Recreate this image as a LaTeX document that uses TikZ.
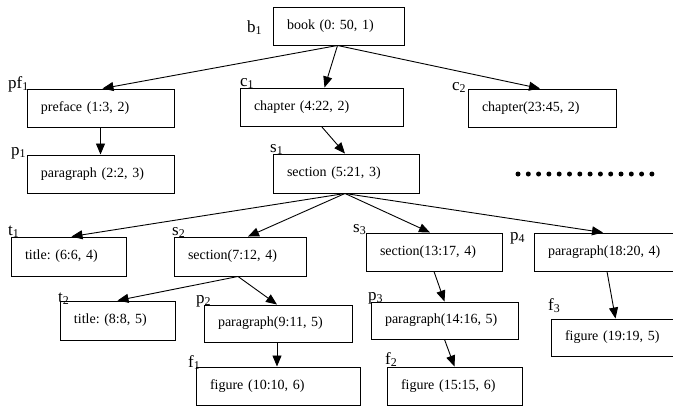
\documentclass[tikz,border=0pt]{standalone}
\usepackage{fontspec}
\setmainfont{Liberation Serif}
\usetikzlibrary{arrows.meta}
\frenchspacing
\begin{document}
\begin{tikzpicture}[x=1pt,y=-1pt,
 box/.style={draw, line width=0.95pt, inner xsep=14pt, inner ysep=0pt, align=left, font=\fontsize{14}{16}\selectfont\frenchspacing, anchor=center},
 lbl/.style={inner sep=0pt, anchor=base west, font=\fontsize{17}{19}\selectfont},
 arr/.style={line width=0.9pt, -{Triangle[length=11pt,width=9pt]}},
 dotn/.style={circle, fill, inner sep=0pt, minimum size=5pt}]
\clip (0,0) rectangle (673,407);
% boxes
\node[box, text width=103pt, minimum height=38pt] (book) at (338.5,26) {book (0: 50, 1)};
\node[box, text width=119pt, minimum height=38pt] (pre) at (100.5,108) {preface (1:3, 2)};
\node[box, text width=119pt, minimum height=38pt] (par1) at (100.5,174) {paragraph (2:2, 3)};
\node[box, text width=135pt, minimum height=38pt] (ch1) at (321.5,107) {chapter (4:22, 2)};
\node[box, text width=120pt, minimum height=38pt] (ch2) at (542,108) {chapter(23:45, 2)};
\node[box, text width=118pt, minimum height=39pt] (sec1) at (346,173.5) {section (5:21, 3)};
\node[box, text width=87pt, minimum height=39pt] (t1) at (68.5,256.5) {title: (6:6, 4)};
\node[box, text width=104pt, minimum height=39pt] (s2) at (240,256.5) {section(7:12, 4)};
\node[box, text width=108pt, minimum height=38pt] (s3) at (434,252) {section(13:17, 4)};
\node[box, text width=128pt, minimum height=38pt] (p4) at (612,252) {paragraph(18:20, 4)};
\node[box, text width=87pt, minimum height=39pt] (t2) at (117.5,320.5) {title: (8:8, 5)};
\node[box, text width=120pt, minimum height=37pt] (p2) at (278,323.5) {paragraph(9:11, 5)};
\node[box, text width=136pt, minimum height=38pt] (f1) at (278,386) {figure (10:10, 6)};
\node[box, text width=119pt, minimum height=37pt] (p3) at (444.5,320.5) {paragraph(14:16, 5)};
\node[box, text width=107pt, minimum height=38pt] (f2) at (454.5,386) {figure (15:15, 6)};
\node[box, text width=111pt, minimum height=37pt] (f3) at (620.5,337.5) {figure (19:19, 5)};
% labels
\node[lbl] (lb1) at (247,32) {b\textsubscript{1}};
\node[lbl] (lpf1) at (8,88) {pf\textsubscript{1}};
\node[lbl] (lc1) at (240,86) {c\textsubscript{1}};
\node[lbl] (lc2) at (452,90) {c\textsubscript{2}};
\node[lbl] (lp1) at (11,155) {p\textsubscript{1}};
\node[lbl] (ls1) at (270,152) {s\textsubscript{1}};
\node[lbl] (lt1) at (8,235) {t\textsubscript{1}};
\node[lbl] (ls2) at (172,235) {s\textsubscript{2}};
\node[lbl] (lt2) at (58,302) {t\textsubscript{2}};
\node[lbl] (lp2) at (196,303) {p\textsubscript{2}};
\node[lbl] (lf1) at (188,367) {f\textsubscript{1}};
\node[lbl] (ls3) at (353,232) {s\textsubscript{3}};
\node[lbl] (lp4) at (510,240) {p\textsubscript{4}};
\node[lbl] (lp3) at (368,300) {p\textsubscript{3}};
\node[lbl] (lf2) at (385,364) {f\textsubscript{2}};
\node[lbl] (lf3) at (548,310) {f\textsubscript{3}};
% arrows
\draw[arr] ([xshift=-1pt]book.south) -- ([xshift=2pt]pre.north);
\draw[arr] ([xshift=-1pt]book.south) -- ([xshift=3pt]ch1.north);
\draw[arr] ([xshift=-1pt]book.south) -- ([xshift=-2pt]ch2.north);
\draw[arr] (pre.south) -- (par1.north);
\draw[arr] (ch1.south) -- ([xshift=-1pt]sec1.north);
\draw[arr] ([xshift=-1pt]sec1.south) -- ([xshift=3pt]t1.north);
\draw[arr] ([xshift=-1pt]sec1.south) -- ([xshift=8pt]s2.north);
\draw[arr] ([xshift=-1pt]sec1.south) -- ([xshift=-4pt]s3.north);
\draw[arr] ([xshift=-1pt]sec1.south) -- ([xshift=-9pt]p4.north);
\draw[arr] ([xshift=-2pt]s2.south) -- (t2.north);
\draw[arr] ([xshift=-2pt]s2.south) -- ([xshift=-1pt]p2.north);
\draw[arr] ([xshift=-1pt]p2.south) -- ([xshift=-1pt]f1.north);
\draw[arr] (s3.south) -- (p3.north);
\draw[arr] (p3.south) -- (f2.north);
\draw[arr] ([xshift=-5pt]p4.south) -- ([xshift=-5pt]f3.north);
% dots
\foreach \i in {0,...,13} \node[dotn] (d\i) at (518+\i*10.3,174) {};
\end{tikzpicture}
\end{document}
